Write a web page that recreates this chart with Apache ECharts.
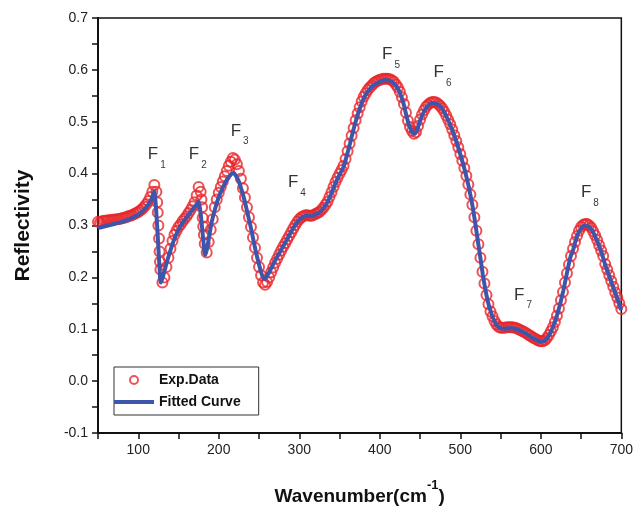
<!DOCTYPE html>
<html>
<head>
<meta charset="utf-8">
<script src="https://cdn.jsdelivr.net/npm/echarts@6/dist/echarts.min.js"></script>
<style>
  html, body { margin: 0; padding: 0; background: #fff; }
  #chart { width: 636px; height: 511px; }
</style>
</head>
<body>
<div id="chart"></div>
<script>
// fitted curve, wavenumber (cm-1) and reflectivity
var fitX = [50,55,60,65,70,75,80,85,90,95,100,105,110,115,118,120,122,124,126,128,130,133,136,140,145,150,155,160,165,170,173,175,177,179,181,183,185,188,191,195,200,205,210,215,218,220,225,230,233,236,240,243,246,250,253,255,258,260,265,270,275,280,285,290,295,300,305,310,315,320,325,330,335,340,345,350,355,360,363,366,370,375,380,385,390,395,400,405,410,415,420,425,430,433,436,440,443,446,450,455,460,465,470,475,480,485,490,495,500,505,510,513,516,519,522,525,528,531,534,537,540,545,550,555,560,565,570,575,580,585,590,595,600,605,610,613,616,619,622,625,628,631,634,637,640,645,650,655,660,665,670,675,680,683,686,689,692,695,700];
var fitted = [.295,.297,.299,.301,.303,.305,.307,.310,.313,.317,.321,.327,.335,.347,.357,.366,.335,.285,.230,.190,.198,.215,.232,.252,.275,.292,.305,.316,.326,.336,.342,.346,.330,.300,.268,.243,.252,.278,.305,.330,.355,.373,.388,.398,.401,.399,.385,.360,.342,.322,.295,.272,.250,.225,.208,.200,.197,.203,.217,.232,.246,.260,.274,.288,.301,.311,.317,.319,.318,.321,.325,.333,.345,.362,.382,.398,.413,.440,.458,.477,.500,.525,.545,.558,.567,.573,.577,.580,.580,.577,.570,.556,.532,.512,.495,.481,.477,.483,.502,.520,.531,.536,.535,.530,.519,.503,.484,.462,.437,.410,.378,.355,.330,.300,.268,.237,.205,.178,.155,.138,.124,.108,.102,.101,.102,.102,.100,.097,.093,.088,.083,.079,.076,.078,.088,.097,.108,.121,.137,.155,.175,.197,.220,.240,.252,.280,.294,.300,.297,.287,.270,.250,.224,.211,.198,.185,.172,.159,.137];

// experimental points
var expX = [
  50,52.5,55,57.5,60,62.5,65,67.5,70,72.5,75,77.5,80,82.5,85,87.5,90,92.5,95,97.5,
  100,102.5,105,107.5,110,112.5,115,117.5,120,122.5,123.5,124.2,125,125.8,126.5,127,127.5,130,132.5,135,137.5,
  140,142.5,145,147.5,150,152.5,155,157.5,160,162.5,165,167.5,170,172.5,175,177.5,178.5,179.3,180,180.7,181.5,182.5,185,187.5,190,192.5,195,197.5,
  200,202.5,205,207.5,210,212.5,215,217.5,220,222.5,225,227.5,230,232.5,235,237.5,240,242.5,245,247.5,
  250,252.5,255,257.5,260,262.5,265,267.5,270,272.5,275,277.5,280,282.5,285,287.5,290,292.5,295,297.5,
  300,302.5,305,307.5,310,312.5,315,317.5,320,322.5,325,327.5,330,332.5,335,337.5,340,342.5,345,347.5,
  350,352.5,355,357.5,360,362.5,365,367.5,370,372.5,375,377.5,380,382.5,385,387.5,390,392.5,395,397.5,
  400,402.5,405,407.5,410,412.5,415,417.5,420,422.5,425,427.5,430,432.5,435,437.5,440,442.5,445,447.5,
  450,452.5,455,457.5,460,462.5,465,467.5,470,472.5,475,477.5,480,482.5,485,487.5,490,492.5,495,497.5,
  500,502.5,505,507.5,510,512.5,515,517.5,520,522.5,525,527.5,530,532.5,535,537.5,540,542.5,545,547.5,
  550,552.5,555,557.5,560,562.5,565,567.5,570,572.5,575,577.5,580,582.5,585,587.5,590,592.5,595,597.5,
  600,602.5,605,607.5,610,612.5,615,617.5,620,622.5,625,627.5,630,632.5,635,637.5,640,642.5,645,647.5,
  650,652.5,655,657.5,660,662.5,665,667.5,670,672.5,675,677.5,680,682.5,685,687.5,690,692.5,695,697.5,700
];
var expData = [
  .307,.306,.308,.309,.309,.310,.310,.311,.311,.312,.312,.313,.314,.315,.316,.318,.319,.320,.322,.324,
  .326,.329,.332,.336,.341,.347,.355,.365,.378,.365,.345,.325,.300,.275,.250,.230,.215,.190,.200,.220,.238,
  .255,.270,.282,.290,.297,.302,.308,.313,.318,.324,.330,.337,.345,.358,.374,.365,.350,.335,.315,.298,.282,.265,.248,.268,.292,.312,.335,.350,
  .363,.374,.385,.395,.405,.415,.423,.430,.427,.418,.405,.390,.372,.354,.335,.316,.297,.277,.257,.238,
  .220,.204,.190,.186,.191,.200,.210,.219,.228,.236,.244,.252,.259,.266,.273,.280,.287,.294,.301,.307,
  .312,.316,.318,.320,.320,.319,.319,.320,.322,.324,.326,.330,.334,.340,.346,.355,.364,.374,.384,.392,
  .400,.407,.415,.428,.443,.458,.473,.488,.503,.516,.528,.539,.548,.555,.561,.566,.570,.574,.577,.579,
  .581,.582,.583,.583,.583,.582,.580,.577,.572,.566,.558,.547,.534,.518,.502,.490,.482,.477,.480,.492,
  .504,.514,.522,.529,.533,.536,.538,.538,.537,.534,.531,.526,.520,.512,.504,.495,.485,.474,.463,.451,
  .438,.425,.411,.396,.379,.360,.340,.316,.290,.264,.238,.211,.188,.166,.148,.134,.125,.116,.109,.105,
  .103,.103,.103,.104,.104,.104,.104,.103,.102,.100,.098,.096,.094,.092,.089,.087,.084,.082,.080,.078,
  .077,.077,.079,.083,.089,.096,.104,.114,.126,.140,.156,.172,.190,.208,.225,.241,.255,.268,.280,.290,
  .297,.301,.303,.303,.300,.296,.289,.281,.272,.262,.252,.241,.226,.215,.204,.193,.182,.171,.161,.150,.139
];

// peak labels F1..F8
var peakNames = ['1','2','3','4','5','6','7','8'];
var peakX = [123, 174, 226, 297, 414, 478, 578, 661];
var peakY = [0.430, 0.430, 0.475, 0.376, 0.623, 0.588, 0.159, 0.357];

var xTicks = [100, 200, 300, 400, 500, 600, 700];

var fontFamily = 'Arial, "Liberation Sans", sans-serif';

var dom = document.getElementById('chart');
var myChart = echarts.init(dom, null, { renderer: 'canvas' });

function zip(xs, ys) {
  var out = [];
  var n = Math.min(xs.length, ys.length);
  for (var i = 0; i < n; i++) out.push([xs[i], ys[i]]);
  return out;
}

var peakPoints = peakX.map(function (x, i) { return { value: [x, peakY[i]], name: peakNames[i] }; });

var option = {
  animation: false,
  backgroundColor: '#fff',
  textStyle: { fontFamily: fontFamily },
  grid: {
    left: 98,
    right: 13,
    top: 18,
    bottom: 78,
    show: true,
    borderColor: '#111',
    borderWidth: 1.5
  },
  legend: {
    orient: 'vertical',
    left: 114,
    top: 367,
    padding: [6, 18, 6, 0],
    itemGap: 8,
    itemWidth: 40,
    itemHeight: 8,
    borderColor: '#333',
    borderWidth: 1,
    textStyle: {
      fontFamily: fontFamily,
      fontWeight: 'bold',
      fontSize: 14,
      color: '#111'
    },
    data: [
      { name: 'Exp.Data', icon: 'circle' },
      { name: 'Fitted Curve', icon: 'path://M0,0H40V4H0Z' }
    ]
  },
  xAxis: {
    type: 'value',
    min: 50,
    max: 700,
    interval: 50,
    name: '{a|Wavenumber(cm}{b|-1}{a|)}',
    nameLocation: 'middle',
    nameGap: 46,
    nameTextStyle: {
      rich: {
        a: { fontSize: 19, fontWeight: 'bold', color: '#111', fontFamily: fontFamily, padding: [8, 0, 0, 0], verticalAlign: 'bottom' },
        b: { fontSize: 13, fontWeight: 'bold', color: '#111', fontFamily: fontFamily, verticalAlign: 'top' }
      }
    },
    axisLine: { onZero: false, lineStyle: { color: '#111', width: 2 } },
    axisTick: { length: 6, lineStyle: { color: '#111', width: 1.5 } },
    axisLabel: {
      fontSize: 14,
      color: '#222',
      margin: 10,
      formatter: function (v) { return xTicks.indexOf(v) >= 0 ? String(v) : ''; }
    },
    splitLine: { show: false }
  },
  yAxis: {
    type: 'value',
    min: -0.1,
    max: 0.7,
    interval: 0.1,
    name: 'Reflectivity',
    nameLocation: 'middle',
    nameGap: 64,
    nameTextStyle: { fontSize: 21, fontWeight: 'bold', color: '#111' },
    axisLine: { show: true, onZero: false, lineStyle: { color: '#111', width: 2 } },
    axisTick: { show: true, length: 6, lineStyle: { color: '#111', width: 1.5 } },
    minorTick: { show: true, splitNumber: 2, length: 6, lineStyle: { color: '#111', width: 1.5 } },
    axisLabel: {
      fontSize: 14,
      color: '#222',
      margin: 10,
      formatter: function (v) { return v.toFixed(1); }
    },
    splitLine: { show: false }
  },
  series: [
    {
      name: 'Exp.Data',
      type: 'scatter',
      data: zip(expX, expData),
      symbol: 'circle',
      symbolSize: 10,
      itemStyle: { color: 'rgba(0,0,0,0)', borderColor: '#e8262a', borderWidth: 2 },
      z: 2
    },
    {
      name: 'Fitted Curve',
      type: 'line',
      data: zip(fitX, fitted),
      showSymbol: false,
      symbol: 'none',
      smooth: 0.2,
      color: '#3d56ab',
      lineStyle: { color: '#3d56ab', width: 4 },
      z: 3
    },
    {
      name: 'peaks',
      type: 'scatter',
      data: peakPoints,
      symbol: 'circle',
      symbolSize: 1,
      itemStyle: { color: 'rgba(0,0,0,0)' },
      silent: true,
      label: {
        show: true,
        position: 'inside',
        formatter: function (p) { return '{f|F}{s|' + p.name + '}'; },
        rich: {
          f: { fontSize: 17, color: '#000', fontFamily: fontFamily, verticalAlign: 'top' },
          s: { fontSize: 10, color: '#000', fontFamily: fontFamily, verticalAlign: 'top', padding: [14, 0, 0, 2] }
        }
      },
      z: 4
    }
  ]
};

if (option && typeof option === "object") {
  myChart.setOption(option, true);
}
</script>
</body>
</html>
